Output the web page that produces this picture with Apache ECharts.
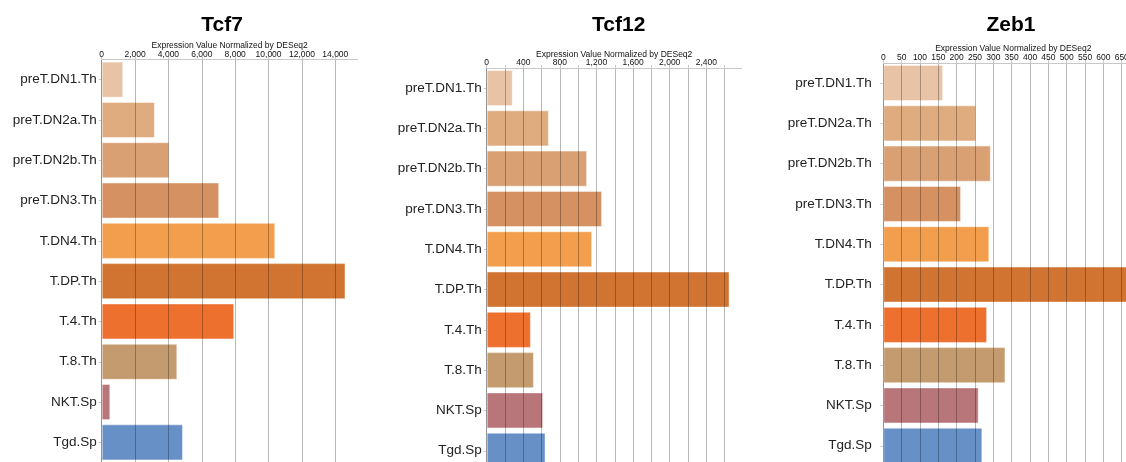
<!DOCTYPE html>
<html>
<head>
<meta charset="utf-8">
<script src="https://cdn.jsdelivr.net/npm/echarts@6/dist/echarts.min.js"></script>
<style>
html,body{margin:0;padding:0;background:#fff;}
#c{width:1126px;height:462px;}
</style>
</head>
<body>
<div id="c"></div>
<script>
// ---- data ----
const categories = ["preT.DN1.Th","preT.DN2a.Th","preT.DN2b.Th","preT.DN3.Th","T.DN4.Th","T.DP.Th","T.4.Th","T.8.Th","NKT.Sp","Tgd.Sp"];
const barColors = ["#e8c3a6","#dfac80","#d9a074","#d59161","#f29e4c","#d17431","#ee702f","#c49b6e","#b8767a","#6690c6"];
const genes = ["Tcf7","Tcf12","Zeb1"];
const tcf7Values  = [1290, 3190, 4050, 7040, 10400, 14610, 7940, 4530, 515, 4870];
const tcf12Values = [284, 680, 1097, 1261, 1152, 2654, 483, 516, 617, 643];
const zeb1Values  = [163, 253, 293, 212, 289, 675, 283, 333, 260, 270];
const tcf7Ticks   = [0,2000,4000,6000,8000,10000,12000,14000];
const tcf7Labels  = [0,2000,4000,6000,8000,10000,12000,14000];
const tcf12Ticks  = [0,200,400,600,800,1000,1200,1400,1600,1800,2000,2200,2400,2600];
const tcf12Labels = [0,400,800,1200,1600,2000,2400];
const zeb1Ticks   = [0,50,100,150,200,250,300,350,400,450,500,550,600,650];
const zeb1Labels  = [0,50,100,150,200,250,300,350,400,450,500,550,600,650];
const axisTitle = "Expression Value Normalized by DESeq2";

const panels = [
  {values: tcf7Values,  ticks: tcf7Ticks,  labels: tcf7Labels,  left: 101.7, width: 256, top: 59.5, labelMargin: 5, tickMargin: 0, nameGap: 9.5},
  {values: tcf12Values, ticks: tcf12Ticks, labels: tcf12Labels, left: 486.7, width: 255, top: 67.9, labelMargin: 5, tickMargin: 1, nameGap: 9},
  {values: zeb1Values,  ticks: zeb1Ticks,  labels: zeb1Labels,  left: 883.3, width: 260, top: 62.9, labelMargin: 11.5, tickMargin: 1, nameGap: 9.5}
];
const titleX = [217, 613.7, 1006];

const FONT = '"Liberation Sans", Arial, Helvetica, sans-serif';
const chart = echarts.init(document.getElementById('c'), null, {renderer: 'canvas'});

const option = {
  animation: false,
  backgroundColor: '#fff',
  title: genes.map((g, i) => ({
    text: g, left: titleX[i], top: 10, textAlign: 'center',
    textStyle: {fontFamily: FONT, fontSize: 21, fontWeight: 'bold', color: '#000'}
  })),
  grid: panels.map(p => ({left: p.left, top: p.top, width: p.width, height: 403,
    containLabel: false, outerBoundsMode: 'none'})),
  xAxis: panels.map((p, i) => ({
    type: 'value', gridIndex: i, position: 'top', z: 5,
    min: 0, max: Math.max(...p.values) * 1.05,
    name: axisTitle, nameLocation: 'middle', nameGap: p.nameGap, nameMoveOverlap: false,
    nameTextStyle: {fontFamily: FONT, fontSize: 8.5, color: '#111'},
    axisLine: {show: true, lineStyle: {color: '#c8c8c8', width: 1}},
    axisTick: {show: true, length: 3, customValues: p.ticks, lineStyle: {color: '#c8c8c8'}},
    axisLabel: {show: true, customValues: p.labels, margin: p.tickMargin, fontFamily: FONT, fontSize: 8.5, color: '#111',
      formatter: v => Number(v).toLocaleString('en-US')},
    splitLine: {show: true, lineStyle: {color: 'rgba(0,0,0,0.28)', width: 1}}
  })),
  yAxis: panels.map((p, i) => ({
    type: 'category', gridIndex: i, inverse: true, data: categories,
    axisLine: {show: true, lineStyle: {color: '#c8c8c8'}},
    axisTick: {show: true, alignWithLabel: true, length: 3, lineStyle: {color: '#c8c8c8'}},
    axisLabel: {margin: p.labelMargin, fontFamily: FONT, fontSize: 13.5, color: '#222'},
    splitLine: {show: false}
  })),
  series: panels.map((p, i) => ({
    type: 'bar', xAxisIndex: i, yAxisIndex: i,
    barCategoryGap: '10.5%',
    data: p.values.map((v, k) => ({value: v, itemStyle: {color: barColors[k]}})),
    itemStyle: {borderColor: 'rgba(255,255,255,0.45)', borderWidth: 1}
  }))
};
chart.setOption(option);
</script>
</body>
</html>
